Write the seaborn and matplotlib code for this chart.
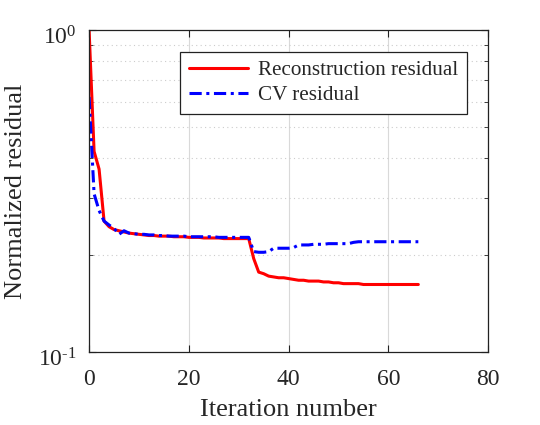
import matplotlib
matplotlib.use('Agg')
import matplotlib.pyplot as plt
import matplotlib.transforms as mtransforms
from matplotlib.ticker import LogLocator, NullFormatter, MultipleLocator, FixedFormatter, FixedLocator
import pandas as pd
import seaborn as sns

iterations = list(range(67))

recon_residual = [
    1.0, 0.42, 0.37, 0.255, 0.245, 0.240, 0.238, 0.236, 0.234, 0.233,
    0.232, 0.231, 0.230, 0.230, 0.229, 0.229, 0.229, 0.228, 0.228, 0.228,
    0.227, 0.227, 0.227, 0.226, 0.226, 0.226, 0.226, 0.225, 0.225, 0.225,
    0.225, 0.225, 0.225, 0.195, 0.177, 0.175, 0.172, 0.171, 0.170, 0.170,
    0.169, 0.168, 0.167, 0.167, 0.166, 0.166, 0.166, 0.165, 0.165, 0.164,
    0.164, 0.163, 0.163, 0.163, 0.163, 0.162, 0.162, 0.162, 0.162, 0.162,
    0.162, 0.162, 0.162, 0.162, 0.162, 0.162, 0.162,
]

cv_residual = [
    0.62, 0.31, 0.275, 0.255, 0.248, 0.242, 0.232, 0.238, 0.234, 0.233,
    0.232, 0.232, 0.231, 0.231, 0.230, 0.230, 0.229, 0.229, 0.229, 0.229,
    0.228, 0.228, 0.228, 0.228, 0.228, 0.228, 0.227, 0.227, 0.227, 0.227,
    0.227, 0.227, 0.227, 0.205, 0.204, 0.204, 0.205, 0.210, 0.210, 0.210,
    0.210, 0.211, 0.215, 0.215, 0.215, 0.216, 0.216, 0.216, 0.217, 0.217,
    0.217, 0.217, 0.217, 0.219, 0.220, 0.220, 0.220, 0.220, 0.220, 0.220,
    0.220, 0.220, 0.220, 0.220, 0.220, 0.220, 0.220,
]

y_ticks = [0.1, 1.0]
y_tick_labels = [r'10$^{\text{-}1}$', r'10$^{0}$']

sns.set_style('ticks')
plt.rcParams['font.family'] = ['Liberation Serif', 'DejaVu Serif']
plt.rcParams['mathtext.fontset'] = 'custom'
plt.rcParams['mathtext.rm'] = 'Liberation Serif'
plt.rcParams['mathtext.it'] = 'Liberation Serif:italic'
plt.rcParams['mathtext.default'] = 'regular'

df = pd.DataFrame({'it': iterations, 'recon': recon_residual, 'cv': cv_residual})

fig = plt.figure(figsize=(5.4, 4.25), dpi=100)
ax = fig.add_axes([0.165, 0.172, 0.739, 0.757])

sns.lineplot(data=df, x='it', y='recon', ax=ax, color='#ff0000', lw=2.2,
             label='Reconstruction residual')
sns.lineplot(data=df, x='it', y='cv', ax=ax, color='#0000ff', lw=2.2,
             linestyle=(0, (4, 1.5, 1, 1.5)), label='CV residual')

ax.set_yscale('log')
ax.set_xlim(0, 80)
ax.set_ylim(0.1, 1.0)
ax.xaxis.set_major_locator(MultipleLocator(20))
ax.yaxis.set_major_locator(FixedLocator(y_ticks))
ax.yaxis.set_major_formatter(FixedFormatter(y_tick_labels))
ax.yaxis.set_minor_locator(LogLocator(base=10, subs=range(2, 10)))
ax.yaxis.set_minor_formatter(NullFormatter())

ax.grid(axis='x', which='major', color='#d9d9d9', lw=0.8, ls='-')
ax.grid(axis='y', which='minor', color='#cccccc', lw=0.8, ls=(0, (1, 3)))
ax.set_axisbelow(True)

ax.tick_params(which='both', direction='in', top=True, right=True,
               labelsize=17, color='#222222')
ax.tick_params(axis='x', which='major', pad=12)
ax.tick_params(axis='y', which='major', pad=9)
ax.tick_params(which='major', length=5)
ax.tick_params(which='minor', length=3)
for s in ax.spines.values():
    s.set_color('#222222')
    s.set_linewidth(0.9)

# y tick labels sit a little below their ticks in the reference
shift = mtransforms.ScaledTranslation(0, -4 / 72, fig.dpi_scale_trans)
for lab in ax.get_yticklabels():
    lab.set_transform(lab.get_transform() + shift)

ax.set_xlabel('Iteration number', fontsize=19, labelpad=7)
ax.set_ylabel('Normalized residual', fontsize=19, labelpad=8)

leg = ax.legend(loc='upper right', bbox_to_anchor=(0.947, 0.932), fontsize=15.2,
                frameon=True, fancybox=False, edgecolor='#222222',
                handlelength=2.8, borderpad=0.4, labelspacing=0.25,
                handletextpad=0.5, borderaxespad=0)
leg.get_frame().set_linewidth(0.9)
leg.get_frame().set_alpha(1.0)

fig.savefig('out.png', dpi=100)
